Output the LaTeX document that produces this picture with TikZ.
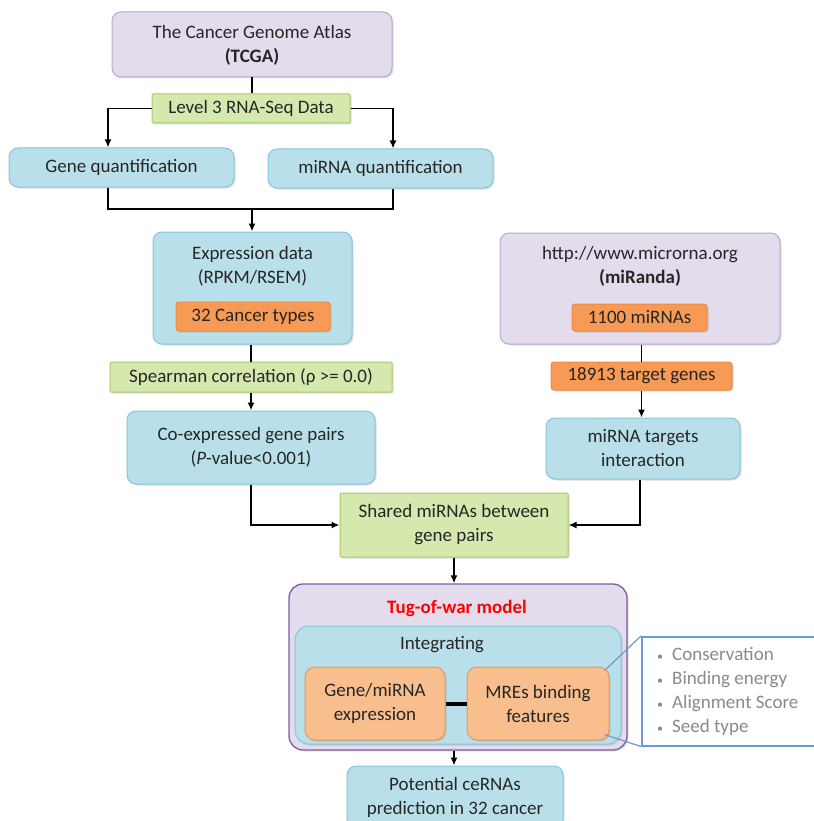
\documentclass[tikz,border=0pt]{standalone}
\usepackage{fontspec}
\setmainfont{Carlito}
\usetikzlibrary{arrows.meta,shadows,calc}
\definecolor{bluef}{HTML}{B9E0EA}
\definecolor{blued}{HTML}{86C6D8}
\definecolor{purf}{HTML}{E3DCEC}
\definecolor{purd}{HTML}{BBA6D4}
\definecolor{tugd}{HTML}{7E5CA2}
\definecolor{greenf}{HTML}{D5E8AE}
\definecolor{greend}{HTML}{A8C96E}
\definecolor{orf}{HTML}{F79A55}
\definecolor{ord}{HTML}{F08A40}
\definecolor{lorf}{HTML}{F9BE8E}
\definecolor{lord}{HTML}{E29A5E}
\definecolor{calb}{HTML}{6E98D6}
\definecolor{gtext}{HTML}{8A8A8A}
\definecolor{tugred}{HTML}{FF0000}
\definecolor{txtc}{HTML}{262626}
\begin{document}
\begin{tikzpicture}[x=1pt,y=-1pt,
  font=\fontsize{19}{24}\selectfont, text=txtc,
  box/.style={rounded corners=9pt, line width=1pt, inner sep=0pt, align=center,
    drop shadow={shadow xshift=1.5pt, shadow yshift=-1.5pt, opacity=0.25}},
  bluebox/.style={box, fill=bluef, draw=blued},
  purbox/.style={box, fill=purf, draw=purd},
  greenbox/.style={box, rounded corners=1pt, fill=greenf, draw=greend},
  orbox/.style={box, rounded corners=3pt, fill=orf, draw=ord},
  lorbox/.style={box, rounded corners=10pt, fill=lorf, draw=lord},
  ln/.style={line width=1.8pt, black},
  arr/.style={ln, -{Latex[length=8pt,width=7pt]}},
  txt/.style={align=center, inner sep=0pt}
]
\useasboundingbox (0,0) rectangle (813,821);

% TCGA
\node[purbox, minimum width=280, minimum height=65] (tcga) at (252,44.5) {};
\node[txt] (tcgat) at (252,45) {The Cancer Genome Atlas\\\textbf{(TCGA)}};
\node[greenbox, minimum width=198, minimum height=29] (l3) at (251,108.5) {Level 3 RNA-Seq Data};
\node[bluebox, minimum width=225, minimum height=39] (gq) at (121.5,167.5) {Gene quantification};
\node[bluebox, minimum width=225, minimum height=39] (mq) at (380.5,168.5) {miRNA quantification};

\draw[ln] (tcga.south) -- (tcga.south |- l3.north);
\draw[arr] (l3.west) -| ([xshift=-13.5pt]gq.north);
\draw[arr] (l3.east) -| ([xshift=12.5pt]mq.north);
\coordinate (j1) at (252,209);
\draw[ln] ([xshift=-13.5pt]gq.south) |- (j1) -| ([xshift=12.5pt]mq.south);

% Expression
\node[bluebox, minimum width=199, minimum height=112] (expr) at (252.5,288) {};
\node[txt] (exprt) at (252.5,266) {Expression data\\(RPKM/RSEM)};
\node[orbox, minimum width=154, minimum height=29] (ct) at (253,316.5) {32 Cancer types};
\draw[arr] (j1) -- (j1 |- expr.north);

\node[greenbox, minimum width=282, minimum height=30] (sp) at (251,377) {Spearman correlation (ρ >= 0.0)};
\draw[ln] (expr.south -| sp.north) -- (sp.north);
\node[bluebox, minimum width=248, minimum height=73] (co) at (251,447.5) {Co-expressed gene pairs\\(\textit{P}-value<0.001)};
\draw[arr] (sp.south) -- (co.north);

% miRanda
\node[purbox, minimum width=280, minimum height=111] (mir) at (640,288.5) {};
\node[txt] (mirt) at (640,266) {http://www.microrna.org\\\textbf{(miRanda)}};
\node[orbox, minimum width=135, minimum height=27] (m1100) at (639.5,317.5) {1100 miRNAs};
\node[orbox, minimum width=181, minimum height=28] (tg) at (641.5,376) {18913 target genes};
\draw[ln] (tg.north |- mir.south) -- (tg.north);
\node[bluebox, minimum width=194, minimum height=61] (mt) at (643,448.5) {miRNA targets\\interaction};
\draw[arr] (tg.south) -- (tg.south |- mt.north);

% Shared
\node[greenbox, minimum width=228, minimum height=64] (sh) at (454,525) {Shared miRNAs between\\gene pairs};
\draw[arr] (co.south) |- (sh.west);
\draw[arr] ([xshift=-3pt]mt.south) |- (sh.east);

% Tug of war
\node[box, rounded corners=14pt, fill=purf, draw=tugd, line width=1.3pt, minimum width=338, minimum height=166] (tug) at (458,667) {};
\node[txt, text=tugred, font=\fontsize{19}{24}\selectfont\bfseries] (tugt) at (457,608) {Tug-of-war model};
\node[box, rounded corners=14pt, fill=bluef, draw=blued, minimum width=326, minimum height=118] (integ) at (458,685) {};
\node[txt] (integt) at (442,645) {Integrating};
\node[lorbox, minimum width=140, minimum height=73] (gm) at (375,703.5) {Gene/miRNA\\expression};
\node[lorbox, minimum width=142, minimum height=73] (mre) at (538,703.5) {MREs binding\\features};
\draw[line width=4pt] (gm.east) -- (mre.west);
\draw[arr] (sh.south) -- (sh.south |- tug.north);

% Callout
\node[draw=calb, line width=1.5pt, fill=white, minimum width=200, minimum height=109, anchor=north west, inner sep=0pt] (call) at (641,636) {};
\draw[calb, line width=1.2pt] ($(mre.north east)+(-5,4)$) -- (call.north west);
\draw[calb, line width=1.2pt] ($(mre.south east)+(-5,-6)$) -- (call.south west);
\node[txt, align=left, anchor=north west, text=gtext] (items) at (657,647)
  {{\fontsize{12}{12}\selectfont•}\hspace{9pt}Conservation\\
   {\fontsize{12}{12}\selectfont•}\hspace{9pt}Binding energy\\
   {\fontsize{12}{12}\selectfont•}\hspace{9pt}Alignment Score\\
   {\fontsize{12}{12}\selectfont•}\hspace{9pt}Seed type};

% Potential
\node[bluebox, minimum width=216, minimum height=62] (pot) at (455,797) {};
\node[txt] (pott) at (455,797) {Potential ceRNAs\\prediction in 32 cancer};
\draw[arr] (tug.south -| sh.south) -- (sh.south |- pot.north);
\end{tikzpicture}
\end{document}
